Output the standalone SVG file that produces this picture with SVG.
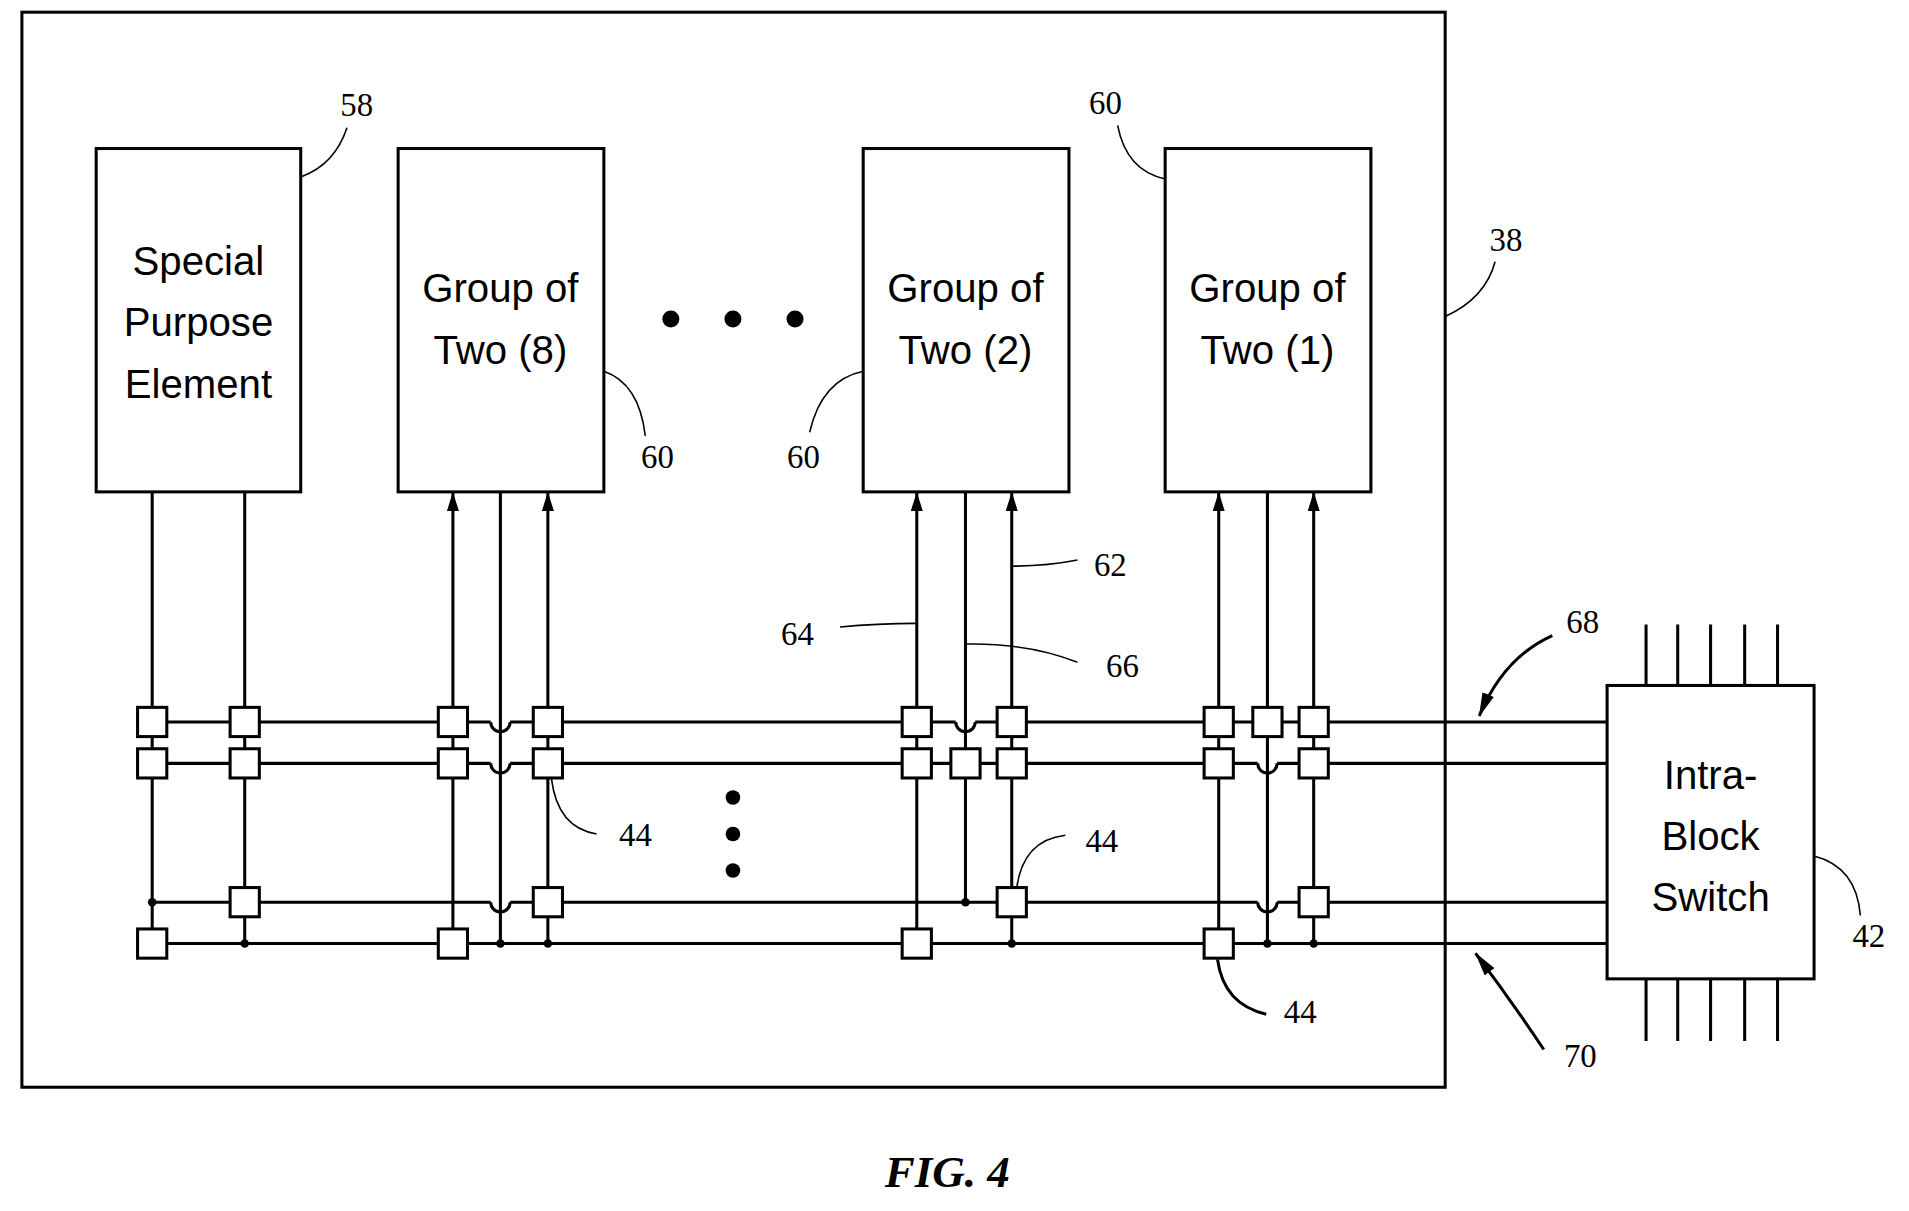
<svg xmlns="http://www.w3.org/2000/svg" width="1909" height="1211" viewBox="0 0 1909 1211">
<style>
.b{fill:#fff;stroke:#000;stroke-width:2.5}
.w{stroke:#000;stroke-width:2.5;fill:none}
.l{stroke:#000;stroke-width:1.3;fill:none}
.t{font-family:"Liberation Sans",Arial,sans-serif;font-size:33px;text-anchor:middle}
.n{font-family:"Liberation Serif","Times New Roman",serif;font-size:27px;text-anchor:middle}
.sq{fill:#fff;stroke:#000;stroke-width:2.5}
.g{stroke:#fff;stroke-width:5}
</style>
<defs>
<marker id="ah" markerWidth="16" markerHeight="10" refX="15" refY="5" orient="auto" markerUnits="userSpaceOnUse"><path d="M0,0 L16,5 L0,10 Z"/></marker>
<marker id="ah2" markerWidth="20" markerHeight="10" refX="19" refY="5" orient="auto" markerUnits="userSpaceOnUse"><path d="M0,0 L20,5 L0,10 Z"/></marker>
</defs>
<rect width="1909" height="1211" fill="#fff"/>
<g transform="scale(1.2175)">
<g id="block38"><rect x="18" y="10" width="1169" height="883" class="w"/></g>
<g id="n58"><rect x="79" y="122" width="168" height="282" class="b"/><text class="t" x="163" y="226">Special</text><text class="t" x="163" y="276">Purpose</text><text class="t" x="163" y="327">Element</text></g>
<g id="g8"><rect x="327" y="122" width="169" height="282" class="b"/><text class="t" x="411" y="248">Group of</text><text class="t" x="411" y="299">Two (8)</text></g>
<g id="g2"><rect x="709" y="122" width="169" height="282" class="b"/><text class="t" x="793" y="248">Group of</text><text class="t" x="793" y="299">Two (2)</text></g>
<g id="g1"><rect x="957" y="122" width="169" height="282" class="b"/><text class="t" x="1041" y="248">Group of</text><text class="t" x="1041" y="299">Two (1)</text></g>
<g id="dots"><circle cx="551" cy="262" r="7"/><circle cx="602" cy="262" r="7"/><circle cx="653" cy="262" r="7"/><circle cx="602" cy="655" r="6"/><circle cx="602" cy="685" r="6"/><circle cx="602" cy="715" r="6"/></g>
<g id="sw42"><rect x="1320" y="563" width="170" height="241" class="b"/><text class="t" x="1405" y="648">Intra-</text><text class="t" x="1405" y="698">Block</text><text class="t" x="1405" y="748">Switch</text>
<path class="w" d="M1352 513V563M1378 513V563M1405 513V563M1433 513V563M1460 513V563M1352 804V855M1378 804V855M1405 804V855M1433 804V855M1460 804V855"/></g>
<g id="connectors">
<path class="w" d="M125 593H1320M125 627H1320M125 741H1320M125 775H1320"/>
<path class="g" d="M403 593H419M785 593H801M403 627H419M1033 627H1049M403 741H419M1033 741H1049"/>
<path class="w" d="M125 404V775M201 404V775M411 404V775M793 404V741M1041 404V775"/>
<path class="w" marker-end="url(#ah)" d="M372 775V405"/>
<path class="w" marker-end="url(#ah)" d="M450 775V405"/>
<path class="w" marker-end="url(#ah)" d="M753 775V405"/>
<path class="w" marker-end="url(#ah)" d="M831 775V405"/>
<path class="w" marker-end="url(#ah)" d="M1001 775V405"/>
<path class="w" marker-end="url(#ah)" d="M1079 775V405"/>
<path class="w" d="M403 593a8 8 0 0 0 16 0M785 593a8 8 0 0 0 16 0M403 627a8 8 0 0 0 16 0M1033 627a8 8 0 0 0 16 0M403 741a8 8 0 0 0 16 0M1033 741a8 8 0 0 0 16 0"/>
<g fill="#000"><circle cx="125" cy="741" r="3.5"/><circle cx="793" cy="741" r="3.5"/><circle cx="201" cy="775" r="3.5"/><circle cx="411" cy="775" r="3.5"/><circle cx="450" cy="775" r="3.5"/><circle cx="831" cy="775" r="3.5"/><circle cx="1041" cy="775" r="3.5"/><circle cx="1079" cy="775" r="3.5"/></g>
<path class="w" marker-end="url(#ah2)" d="M1275 522Q1235 540 1215 588"/>
<path class="w" marker-end="url(#ah2)" d="M1268 862Q1240 820 1212 783"/>
</g>
<g id="sw44">
<g class="sq">
<rect x="113" y="581" width="24" height="24"/><rect x="189" y="581" width="24" height="24"/><rect x="360" y="581" width="24" height="24"/><rect x="438" y="581" width="24" height="24"/><rect x="741" y="581" width="24" height="24"/><rect x="819" y="581" width="24" height="24"/><rect x="989" y="581" width="24" height="24"/><rect x="1029" y="581" width="24" height="24"/><rect x="1067" y="581" width="24" height="24"/>
<rect x="113" y="615" width="24" height="24"/><rect x="189" y="615" width="24" height="24"/><rect x="360" y="615" width="24" height="24"/><rect x="438" y="615" width="24" height="24"/><rect x="741" y="615" width="24" height="24"/><rect x="781" y="615" width="24" height="24"/><rect x="819" y="615" width="24" height="24"/><rect x="989" y="615" width="24" height="24"/><rect x="1067" y="615" width="24" height="24"/>
<rect x="189" y="729" width="24" height="24"/><rect x="438" y="729" width="24" height="24"/><rect x="819" y="729" width="24" height="24"/><rect x="1067" y="729" width="24" height="24"/>
<rect x="113" y="763" width="24" height="24"/><rect x="360" y="763" width="24" height="24"/><rect x="741" y="763" width="24" height="24"/><rect x="989" y="763" width="24" height="24"/>
</g></g>
<g id="labels">
<path class="l" d="M248 145Q275 135 285 105"/><text class="n" x="293" y="95">58</text>
<path class="l" d="M496 305Q525 315 530 358"/><text class="n" x="540" y="384">60</text>
<path class="l" d="M709 305Q675 312 665 355"/><text class="n" x="660" y="384">60</text>
<path class="l" d="M957 147Q925 140 918 103"/><text class="n" x="908" y="94">60</text>
<path class="l" d="M1187 260Q1220 245 1228 215"/><text class="n" x="1237" y="206">38</text>
<path class="l" d="M831 465Q860 465 885 460"/><text class="n" x="912" y="473">62</text>
<path class="l" d="M690 515Q720 512 753 512"/><text class="n" x="655" y="530">64</text>
<path class="l" d="M793 529Q845 528 885 544"/><text class="n" x="922" y="556">66</text>
<path class="l" d="M453 640Q458 680 490 685"/><text class="n" x="522" y="695">44</text>
<path class="l" d="M835 730Q840 690 875 686"/><text class="n" x="905" y="700">44</text>
<path class="w" d="M1000 788Q1005 825 1040 833"/><text class="n" x="1068" y="840">44</text>
<text class="n" x="1300" y="520">68</text>
<text class="n" x="1298" y="876">70</text>
<path class="l" d="M1490 703Q1525 712 1528 752"/><text class="n" x="1535" y="778">42</text>
</g>
<text x="778" y="975" style="font-family:'Liberation Serif',serif;font-size:37px;font-style:italic;font-weight:bold;text-anchor:middle">FIG. 4</text>
</g>
</svg>
